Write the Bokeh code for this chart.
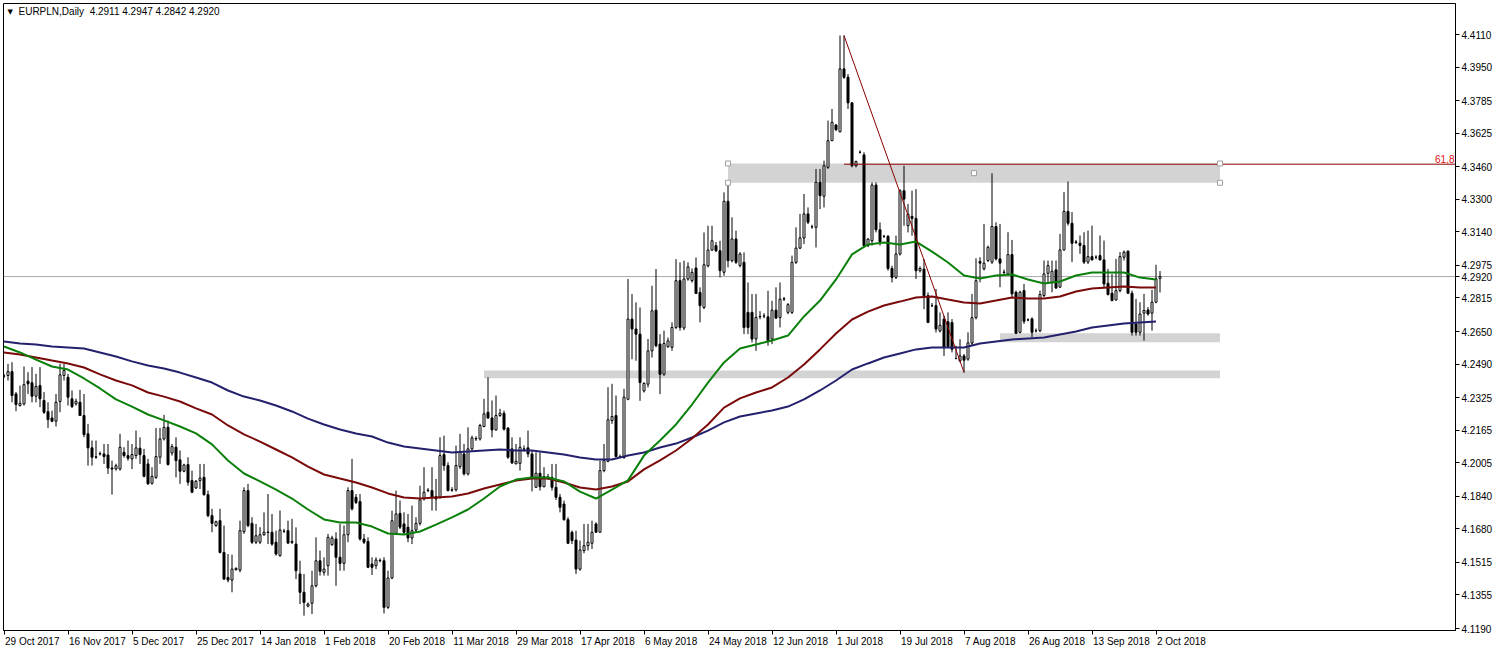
from bokeh.plotting import figure
from bokeh.models import (Range1d, FixedTicker, PrintfTickFormatter, Label, Span,
                          ColumnDataSource, LinearAxis)
from bokeh.embed import file_html
from bokeh.resources import INLINE

# ---------------- data (EURPLN daily) ----------------
opens = [
    4.2430, 4.2434, 4.2453, 4.2343, 4.2286, 4.2294, 4.2406, 4.2398, 4.2332, 4.2384,
    4.2311, 4.2256, 4.2225, 4.2209, 4.2306, 4.2434, 4.2425, 4.2319, 4.2294, 4.2302,
    4.2237, 4.2147, 4.2078, 4.2034, 4.2048, 4.2048, 4.2043, 4.1979, 4.1974, 4.1974,
    4.2056, 4.2040, 4.2024, 4.2040, 4.2076, 4.2040, 4.1999, 4.1904, 4.1933, 4.2032,
    4.2122, 4.2179, 4.2053, 4.2081, 4.2019, 4.1963, 4.1996, 4.1917, 4.1881, 4.1917,
    4.1933, 4.1848, 4.1745, 4.1696, 4.1720, 4.1564, 4.1441, 4.1428, 4.1479, 4.1477,
    4.1666, 4.1868, 4.1707, 4.1614, 4.1614, 4.1651, 4.1664, 4.1663, 4.1614, 4.1548,
    4.1668, 4.1671, 4.1618, 4.1605, 4.1458, 4.1368, 4.1300, 4.1314, 4.1400, 4.1523,
    4.1466, 4.1499, 4.1602, 4.1630, 4.1540, 4.1510, 4.1651, 4.1868, 4.1835, 4.1814,
    4.1630, 4.1618, 4.1507, 4.1499, 4.1525, 4.1523, 4.1294, 4.1438, 4.1658, 4.1756,
    4.1704, 4.1688, 4.1635, 4.1674, 4.1707, 4.1827, 4.1868, 4.1868, 4.1838, 4.1835,
    4.2045, 4.1991, 4.1870, 4.1871, 4.1986, 4.2048, 4.1950, 4.2073, 4.2122, 4.2122,
    4.2183, 4.2253, 4.2225, 4.2166, 4.2237, 4.2248, 4.2175, 4.2073, 4.1999, 4.2002,
    4.2071, 4.2078, 4.2048, 4.1884, 4.1953, 4.1887, 4.1933, 4.1933, 4.1884, 4.1835,
    4.1802, 4.1725, 4.1663, 4.1625, 4.1482, 4.1573, 4.1597, 4.1609, 4.1704, 4.1663,
    4.1966, 4.2012, 4.2212, 4.2237, 4.2035, 4.2030, 4.2317, 4.2711, 4.2662, 4.2637,
    4.2358, 4.2391, 4.2555, 4.2755, 4.2588, 4.2440, 4.2575, 4.2572, 4.2670, 4.2900,
    4.2667, 4.2908, 4.2900, 4.2962, 4.2842, 4.2768, 4.2973, 4.3050, 4.3072, 4.3047,
    4.2941, 4.3290, 4.2998, 4.3105, 4.2974, 4.2990, 4.2744, 4.2744, 4.2613, 4.2722,
    4.2726, 4.2722, 4.2613, 4.2755, 4.2719, 4.2809, 4.2744, 4.2744, 4.2990, 4.3060,
    4.3110, 4.3228, 4.3165, 4.3162, 4.3383, 4.3315, 4.3457, 4.3588, 4.3665, 4.3632,
    4.3941, 4.3900, 4.3774, 4.3465, 4.3531, 4.3518, 4.3072, 4.3096, 4.3370, 4.3150,
    4.3118, 4.3118, 4.2960, 4.2916, 4.3031, 4.3342, 4.3170, 4.3216, 4.3206, 4.2949,
    4.2957, 4.2826, 4.2777, 4.2777, 4.2653, 4.2711, 4.2698, 4.2694, 4.2517, 4.2506,
    4.2530, 4.2514, 4.2593, 4.2718, 4.2994, 4.2958, 4.2999, 4.2991, 4.3166, 4.3007,
    4.2942, 4.2933, 4.3028, 4.2843, 4.2646, 4.2851, 4.2707, 4.2712, 4.2654, 4.2654,
    4.2827, 4.2936, 4.2892, 4.2953, 4.2868, 4.3051, 4.3240, 4.3182, 4.3090, 4.3084,
    4.3073, 4.2991, 4.3018, 4.3015, 4.3023, 4.3002, 4.2887, 4.2838, 4.2805, 4.2851,
    4.3015, 4.3045, 4.2838, 4.2687, 4.2646, 4.2740, 4.2756, 4.2740, 4.2794, 4.2911,
]
highs = [
    4.2442, 4.2491, 4.2499, 4.2352, 4.2384, 4.2478, 4.2450, 4.2475, 4.2442, 4.2475,
    4.2352, 4.2302, 4.2261, 4.2343, 4.2491, 4.2491, 4.2442, 4.2360, 4.2320, 4.2363,
    4.2343, 4.2196, 4.2114, 4.2114, 4.2060, 4.2097, 4.2097, 4.2015, 4.2000, 4.2147,
    4.2081, 4.2114, 4.2097, 4.2163, 4.2130, 4.2073, 4.2024, 4.1983, 4.2176, 4.2176,
    4.2240, 4.2212, 4.2097, 4.2130, 4.2065, 4.2000, 4.2032, 4.1966, 4.1920, 4.1999,
    4.1999, 4.1868, 4.1778, 4.1720, 4.1778, 4.1696, 4.1556, 4.1553, 4.1490, 4.1720,
    4.1884, 4.1901, 4.1737, 4.1704, 4.1688, 4.1761, 4.1851, 4.1753, 4.1671, 4.1770,
    4.1680, 4.1720, 4.1729, 4.1687, 4.1523, 4.1458, 4.1318, 4.1474, 4.1638, 4.1573,
    4.1540, 4.1655, 4.1646, 4.1663, 4.1704, 4.1696, 4.1884, 4.2024, 4.1851, 4.1851,
    4.1655, 4.1638, 4.1540, 4.1540, 4.1535, 4.1540, 4.1474, 4.1769, 4.1868, 4.1819,
    4.1761, 4.1753, 4.1794, 4.1737, 4.1892, 4.1983, 4.1880, 4.1983, 4.1925, 4.2130,
    4.2138, 4.2007, 4.1885, 4.2089, 4.2147, 4.2097, 4.2179, 4.2138, 4.2135, 4.2196,
    4.2319, 4.2425, 4.2311, 4.2335, 4.2270, 4.2261, 4.2180, 4.2130, 4.2097, 4.2130,
    4.2090, 4.2163, 4.2065, 4.2056, 4.2056, 4.1983, 4.1950, 4.1999, 4.1999, 4.1851,
    4.1819, 4.1737, 4.1671, 4.1671, 4.1622, 4.1704, 4.1704, 4.1720, 4.1712, 4.2015,
    4.2097, 4.2376, 4.2393, 4.2335, 4.2045, 4.2368, 4.2908, 4.2834, 4.2793, 4.2768,
    4.2400, 4.2613, 4.2875, 4.2957, 4.2637, 4.2654, 4.2620, 4.2695, 4.3006, 4.2990,
    4.2998, 4.2990, 4.2960, 4.3014, 4.2867, 4.3137, 4.3170, 4.3170, 4.3090, 4.3096,
    4.3334, 4.3383, 4.3211, 4.3146, 4.3040, 4.3039, 4.2891, 4.2834, 4.2834, 4.2750,
    4.2740, 4.2850, 4.2801, 4.2867, 4.2891, 4.2820, 4.2790, 4.3023, 4.3162, 4.3228,
    4.3326, 4.3260, 4.3175, 4.3449, 4.3449, 4.3490, 4.3687, 4.3744, 4.3670, 4.4105,
    4.4105, 4.3916, 4.3777, 4.3490, 4.3540, 4.3531, 4.3110, 4.3383, 4.3383, 4.3186,
    4.3125, 4.3124, 4.2973, 4.3121, 4.3350, 4.3465, 4.3277, 4.3342, 4.3350, 4.2970,
    4.3006, 4.2842, 4.2790, 4.2859, 4.2744, 4.2727, 4.2744, 4.2711, 4.2580, 4.2612,
    4.2539, 4.2646, 4.2835, 4.3010, 4.3015, 4.3179, 4.3072, 4.3428, 4.3187, 4.3179,
    4.2955, 4.3138, 4.3100, 4.2851, 4.2851, 4.2884, 4.2715, 4.2720, 4.2665, 4.2851,
    4.2999, 4.2999, 4.2999, 4.2999, 4.3130, 4.3335, 4.3387, 4.3237, 4.3100, 4.3122,
    4.3138, 4.3146, 4.3171, 4.3025, 4.3122, 4.3097, 4.2958, 4.2933, 4.3007, 4.3040,
    4.3048, 4.3048, 4.2851, 4.2810, 4.2794, 4.2835, 4.2770, 4.2855, 4.2978, 4.2947,
]
lows = [
    4.2422, 4.2409, 4.2302, 4.2258, 4.2281, 4.2286, 4.2343, 4.2302, 4.2302, 4.2278,
    4.2245, 4.2176, 4.2204, 4.2183, 4.2253, 4.2409, 4.2286, 4.2274, 4.2286, 4.2237,
    4.2130, 4.1991, 4.1991, 4.2024, 4.2040, 4.1999, 4.1950, 4.1848, 4.1966, 4.1966,
    4.2030, 4.2015, 4.1974, 4.2024, 4.1999, 4.1933, 4.1897, 4.1897, 4.1925, 4.1999,
    4.2114, 4.1991, 4.2040, 4.1933, 4.1901, 4.1958, 4.1892, 4.1855, 4.1876, 4.1876,
    4.1843, 4.1737, 4.1663, 4.1690, 4.1559, 4.1428, 4.1417, 4.1368, 4.1475, 4.1466,
    4.1655, 4.1688, 4.1605, 4.1605, 4.1605, 4.1646, 4.1605, 4.1597, 4.1548, 4.1543,
    4.1660, 4.1605, 4.1605, 4.1433, 4.1310, 4.1253, 4.1294, 4.1261, 4.1392, 4.1450,
    4.1450, 4.1450, 4.1597, 4.1400, 4.1474, 4.1474, 4.1614, 4.1770, 4.1802, 4.1622,
    4.1605, 4.1487, 4.1453, 4.1482, 4.1515, 4.1264, 4.1286, 4.1433, 4.1655, 4.1679,
    4.1651, 4.1614, 4.1605, 4.1663, 4.1696, 4.1819, 4.1860, 4.1769, 4.1769, 4.1827,
    4.1966, 4.1864, 4.1862, 4.1864, 4.1974, 4.1942, 4.1942, 4.2065, 4.2112, 4.2114,
    4.2179, 4.2220, 4.2130, 4.2163, 4.2230, 4.2163, 4.2024, 4.1999, 4.1999, 4.1966,
    4.2060, 4.2032, 4.1864, 4.1884, 4.1868, 4.1884, 4.1920, 4.1868, 4.1822, 4.1761,
    4.1720, 4.1605, 4.1605, 4.1458, 4.1474, 4.1560, 4.1573, 4.1581, 4.1663, 4.1663,
    4.1958, 4.2007, 4.2196, 4.2032, 4.2028, 4.2024, 4.2312, 4.2514, 4.2506, 4.2309,
    4.2350, 4.2375, 4.2522, 4.2572, 4.2342, 4.2432, 4.2570, 4.2555, 4.2662, 4.2654,
    4.2657, 4.2900, 4.2890, 4.2834, 4.2695, 4.2760, 4.2965, 4.3047, 4.3040, 4.2916,
    4.2924, 4.2965, 4.2990, 4.2982, 4.2965, 4.2637, 4.2637, 4.2596, 4.2555, 4.2710,
    4.2715, 4.2580, 4.2588, 4.2711, 4.2670, 4.2800, 4.2735, 4.2736, 4.2982, 4.3055,
    4.3080, 4.3178, 4.3155, 4.3063, 4.3252, 4.3260, 4.3449, 4.3588, 4.3635, 4.3629,
    4.3892, 4.3744, 4.3457, 4.3457, 4.3525, 4.3063, 4.3065, 4.3072, 4.3137, 4.3072,
    4.3110, 4.2949, 4.2891, 4.2908, 4.3023, 4.3170, 4.3137, 4.3121, 4.2908, 4.2940,
    4.2760, 4.2694, 4.2770, 4.2645, 4.2645, 4.2530, 4.2571, 4.2547, 4.2514, 4.2498,
    4.2448, 4.2506, 4.2580, 4.2710, 4.2892, 4.2950, 4.2991, 4.2982, 4.2999, 4.2868,
    4.2930, 4.2925, 4.2818, 4.2638, 4.2641, 4.2687, 4.2700, 4.2622, 4.2645, 4.2646,
    4.2818, 4.2884, 4.2843, 4.2859, 4.2864, 4.3048, 4.3171, 4.2991, 4.3080, 4.3032,
    4.2982, 4.2982, 4.2999, 4.3005, 4.2999, 4.2868, 4.2827, 4.2799, 4.2802, 4.2843,
    4.2999, 4.2835, 4.2630, 4.2630, 4.2630, 4.2605, 4.2728, 4.2654, 4.2789, 4.2842,
]
closes = [
    4.2432, 4.2453, 4.2335, 4.2291, 4.2297, 4.2389, 4.2393, 4.2332, 4.2380, 4.2319,
    4.2253, 4.2217, 4.2209, 4.2302, 4.2437, 4.2458, 4.2327, 4.2281, 4.2307, 4.2237,
    4.2143, 4.2078, 4.2032, 4.2032, 4.2050, 4.2035, 4.1979, 4.1974, 4.1990, 4.2081,
    4.2040, 4.2027, 4.2045, 4.2078, 4.2045, 4.1938, 4.1901, 4.1938, 4.2035, 4.2122,
    4.2179, 4.1996, 4.2084, 4.2015, 4.1963, 4.1994, 4.1909, 4.1860, 4.1914, 4.1929,
    4.1848, 4.1745, 4.1707, 4.1715, 4.1564, 4.1433, 4.1428, 4.1482, 4.1486, 4.1671,
    4.1868, 4.1696, 4.1614, 4.1646, 4.1651, 4.1663, 4.1662, 4.1605, 4.1556, 4.1674,
    4.1668, 4.1610, 4.1614, 4.1474, 4.1368, 4.1318, 4.1310, 4.1400, 4.1523, 4.1471,
    4.1482, 4.1638, 4.1635, 4.1540, 4.1510, 4.1651, 4.1868, 4.1778, 4.1810, 4.1630,
    4.1614, 4.1491, 4.1491, 4.1527, 4.1523, 4.1294, 4.1438, 4.1720, 4.1753, 4.1688,
    4.1663, 4.1635, 4.1671, 4.1707, 4.1822, 4.1860, 4.1870, 4.1835, 4.1827, 4.2040,
    4.1991, 4.1868, 4.1872, 4.1991, 4.2056, 4.1950, 4.2073, 4.2127, 4.2124, 4.2188,
    4.2245, 4.2225, 4.2166, 4.2237, 4.2248, 4.2170, 4.2032, 4.2004, 4.2012, 4.2081,
    4.2073, 4.2048, 4.1933, 4.1953, 4.1887, 4.1937, 4.1935, 4.1884, 4.1835, 4.1786,
    4.1725, 4.1609, 4.1622, 4.1482, 4.1576, 4.1597, 4.1614, 4.1663, 4.1663, 4.1966,
    4.2015, 4.2216, 4.2232, 4.2035, 4.2033, 4.2327, 4.2711, 4.2662, 4.2637, 4.2399,
    4.2395, 4.2555, 4.2752, 4.2580, 4.2440, 4.2591, 4.2604, 4.2670, 4.2900, 4.2670,
    4.2908, 4.2968, 4.2941, 4.2837, 4.2777, 4.2978, 4.3050, 4.3096, 4.3047, 4.2949,
    4.3290, 4.2998, 4.3105, 4.2990, 4.3031, 4.2670, 4.2670, 4.2613, 4.2719, 4.2724,
    4.2726, 4.2604, 4.2755, 4.2716, 4.2809, 4.2811, 4.2782, 4.2990, 4.3060, 4.3110,
    4.3228, 4.3187, 4.3165, 4.3383, 4.3318, 4.3465, 4.3588, 4.3678, 4.3642, 4.3941,
    4.3900, 4.3774, 4.3465, 4.3485, 4.3531, 4.3072, 4.3104, 4.3370, 4.3150, 4.3091,
    4.3118, 4.2960, 4.2916, 4.3031, 4.3342, 4.3301, 4.3227, 4.3206, 4.2949, 4.2960,
    4.2826, 4.2694, 4.2777, 4.2662, 4.2681, 4.2571, 4.2576, 4.2563, 4.2517, 4.2530,
    4.2509, 4.2594, 4.2718, 4.2900, 4.2986, 4.2986, 4.3064, 4.3166, 4.3007, 4.2986,
    4.2940, 4.3028, 4.2835, 4.2641, 4.2843, 4.2700, 4.2707, 4.2646, 4.2654, 4.2832,
    4.2933, 4.2974, 4.2946, 4.2864, 4.3051, 4.3240, 4.3182, 4.3084, 4.3088, 4.3073,
    4.2991, 4.3018, 4.3002, 4.3015, 4.3002, 4.2884, 4.2832, 4.2802, 4.2851, 4.3018,
    4.3040, 4.2838, 4.2646, 4.2646, 4.2736, 4.2753, 4.2736, 4.2794, 4.2909, 4.2920,
]

# moving averages, sampled every 4 bars
ma_fast = [4.2576, 4.2547, 4.2512, 4.2478, 4.2463, 4.2419, 4.2370, 4.2316, 4.2281, 4.2242,
           4.2213, 4.2183, 4.2149, 4.2095, 4.2016, 4.1952, 4.1913, 4.1873, 4.1829, 4.1775,
           4.1726, 4.1711, 4.1711, 4.1691, 4.1657, 4.1652, 4.1667, 4.1701, 4.1736, 4.1775,
           4.1829, 4.1888, 4.1922, 4.1932, 4.1932, 4.1913, 4.1863, 4.1829, 4.1873, 4.1918,
           4.2040, 4.2114, 4.2193, 4.2291, 4.2399, 4.2498, 4.2566, 4.2586, 4.2606, 4.2630,
           4.2724, 4.2802, 4.2906, 4.3029, 4.3078, 4.3088, 4.3078, 4.3092, 4.3043, 4.2989,
           4.2925, 4.2911, 4.2925, 4.2930, 4.2906, 4.2886, 4.2896, 4.2925, 4.2940, 4.2940,
           4.2940, 4.2915, 4.2906]
ma_mid = [4.2547, 4.2537, 4.2522, 4.2507, 4.2493, 4.2473, 4.2439, 4.2409, 4.2385, 4.2350,
          4.2330, 4.2306, 4.2272, 4.2242, 4.2188, 4.2144, 4.2109, 4.2070, 4.2031, 4.1986,
          4.1947, 4.1927, 4.1908, 4.1883, 4.1854, 4.1834, 4.1829, 4.1834, 4.1839, 4.1854,
          4.1878, 4.1898, 4.1918, 4.1927, 4.1927, 4.1908, 4.1883, 4.1873, 4.1888, 4.1913,
          4.1972, 4.2016, 4.2065, 4.2124, 4.2193, 4.2276, 4.2321, 4.2350, 4.2375, 4.2424,
          4.2488, 4.2562, 4.2640, 4.2709, 4.2748, 4.2778, 4.2797, 4.2817, 4.2822, 4.2807,
          4.2793, 4.2788, 4.2802, 4.2817, 4.2812, 4.2812, 4.2822, 4.2847, 4.2861, 4.2866,
          4.2871, 4.2866, 4.2866]
ma_slow = [4.2601, 4.2591, 4.2586, 4.2576, 4.2571, 4.2566, 4.2547, 4.2527, 4.2503, 4.2483,
           4.2468, 4.2448, 4.2424, 4.2399, 4.2360, 4.2330, 4.2311, 4.2286, 4.2257, 4.2222,
           4.2193, 4.2168, 4.2149, 4.2134, 4.2104, 4.2085, 4.2075, 4.2065, 4.2055, 4.2060,
           4.2065, 4.2070, 4.2065, 4.2065, 4.2055, 4.2045, 4.2031, 4.2021, 4.2021, 4.2040,
           4.2055, 4.2080, 4.2099, 4.2129, 4.2163, 4.2203, 4.2232, 4.2247, 4.2262, 4.2281,
           4.2316, 4.2360, 4.2409, 4.2463, 4.2493, 4.2522, 4.2542, 4.2562, 4.2571, 4.2571,
           4.2571, 4.2591, 4.2601, 4.2611, 4.2616, 4.2620, 4.2635, 4.2650, 4.2670, 4.2680,
           4.2689, 4.2694, 4.2699]

date_labels = ["29 Oct 2017", "16 Nov 2017", "5 Dec 2017", "25 Dec 2017", "14 Jan 2018",
               "1 Feb 2018", "20 Feb 2018", "11 Mar 2018", "29 Mar 2018", "17 Apr 2018",
               "6 May 2018", "24 May 2018", "12 Jun 2018", "1 Jul 2018", "19 Jul 2018",
               "7 Aug 2018", "26 Aug 2018", "13 Sep 2018", "2 Oct 2018"]
price_ticks = [4.1190, 4.1355, 4.1515, 4.1680, 4.1840, 4.2005, 4.2165, 4.2325, 4.2490, 4.2650,
               4.2815, 4.2975, 4.3140, 4.3300, 4.3460, 4.3625, 4.3785, 4.3950, 4.4110]

# support / resistance zones (bar index from, bar index to, price top, price bottom)
zone_left = [181, 249, 120]
zone_right = [304, 304, 304]
zone_top = [4.3476, 4.2641, 4.2458]
zone_bottom = [4.3381, 4.2597, 4.2420]

# Fibonacci drawing
fib_bar_high, fib_bar_low = 210, 240
fib_high, fib_low = 4.4105, 4.2449
fib_ratio = 0.618
last_price = 4.2920
header = "EURPLN,Daily\u00a0 4.2911 4.2947 4.2842 4.2920"

# ---------------- figure ----------------
FONT = "Liberation Sans"
W, H = 1497, 652
FL, FT, FR, FB = 3, 3, 42, 22           # borders around the frame (px)
FW, FH = W - FL - FR, H - FT - FB       # frame size
PX_PER_BAR = 4

n = len(closes)
bars = list(range(n))
ma_bars = list(range(0, n, 4))[:len(ma_fast)]

src = ColumnDataSource(dict(
    x=bars, h=highs, l=lows,
    top=[max(o, c) for o, c in zip(opens, closes)],
    bottom=[min(o, c) for o, c in zip(opens, closes)],
    fill=["white" if c >= o else "black" for o, c in zip(opens, closes)],
))

x0 = -0.5 / PX_PER_BAR
px_per_price = 2034.25
y_hi = price_ticks[-1] + 31 / px_per_price
y_lo = y_hi - FH / px_per_price

p = figure(width=W, height=H, output_backend="svg", toolbar_location=None,
           x_range=Range1d(x0, x0 + FW / PX_PER_BAR), y_range=Range1d(y_lo, y_hi),
           y_axis_location="right", min_border_left=FL, min_border_top=FT,
           min_border_right=FR, min_border_bottom=FB)
p.background_fill_color = "white"
p.border_fill_color = "white"
p.outline_line_color = "black"
p.outline_line_width = 1
p.xgrid.visible = False
p.ygrid.visible = False

# zones
p.quad(left=zone_left, right=zone_right, top=zone_top, bottom=zone_bottom,
       fill_color="#d3d3d3", line_color=None)

# bid line
p.add_layout(Span(location=last_price, dimension="width", line_color="#a9a9a9",
                  line_width=1, level="underlay"))

# candles
p.segment(x0="x", y0="h", x1="x", y1="l", source=src, line_color="black", line_width=1)
p.vbar(x="x", width=0.5, top="top", bottom="bottom", source=src,
       fill_color="fill", line_color="black", line_width=1)

# moving averages
p.line(ma_bars, ma_slow, line_color="#24206e", line_width=2)
p.line(ma_bars, ma_mid, line_color="#7a0a0a", line_width=2)
p.line(ma_bars, ma_fast, line_color="#0a800a", line_width=2)

# fibonacci
fib_level = fib_low + fib_ratio * (fib_high - fib_low)
p.segment(x0=[fib_bar_high], y0=[fib_high], x1=[fib_bar_low], y1=[fib_low],
          line_color="#8b0000", line_width=1)
p.ray(x=[fib_bar_high], y=[fib_level], length=0, angle=0, line_color="#8b0000", line_width=1)
p.add_layout(Label(x=FW - 1, y=fib_level, x_units="screen", y_units="data", text="61,8",
                   text_align="right", text_baseline="bottom", text_color="#e01010",
                   text_font=FONT, text_font_size="10px", y_offset=1))

# handles of the selected rectangle
hx = [zone_left[0], zone_left[0], zone_right[0], zone_right[0], (zone_left[0] + zone_right[0]) / 2]
hy = [zone_top[0], zone_bottom[0], zone_top[0], zone_bottom[0], (zone_top[0] + zone_bottom[0]) / 2]
p.scatter(hx, hy, marker="square", size=5, fill_color="white", line_color="#a0a0a0")

# right price axis (includes the current bid price)
ya = p.yaxis[0]
ya.ticker = FixedTicker(ticks=price_ticks + [last_price])
ya.formatter = PrintfTickFormatter(format="%.4f")
ya.major_tick_in = 0
ya.major_tick_out = 4
ya.minor_tick_in = 0
ya.minor_tick_out = 0
ya.major_label_standoff = 2
ya.major_label_text_font = FONT
ya.major_label_text_font_size = "10px"
ya.major_label_text_color = "black"
ya.axis_line_color = "black"

# bottom time axis: tick marks at the bars, labels start just right of each mark
label_bars = list(range(0, n, 16))[:len(date_labels)]
xa = p.xaxis[0]
xa.ticker = FixedTicker(ticks=label_bars)
xa.major_label_overrides = {b: "" for b in label_bars}
xa.major_label_text_font_size = "0px"
xa.major_label_standoff = 0
xa.major_tick_in = 0
xa.major_tick_out = 4
xa.minor_tick_in = 0
xa.minor_tick_out = 0
xa.axis_line_color = "black"

ARIAL = {' ': 278, 'O': 778, 'c': 500, 't': 278, 'N': 722, 'o': 556, 'v': 500, 'D': 722,
         'e': 556, 'J': 500, 'a': 556, 'n': 556, 'F': 611, 'b': 556, 'M': 833, 'r': 333,
         'A': 667, 'p': 556, 'y': 500, 'u': 556, 'l': 222, 'g': 556, 'S': 667}
def text_px(s, size=10):
    return sum(ARIAL.get(ch, 556) for ch in s) * size / 1000.0

label_pos = [b + (1.0 + text_px(s) / 2) / PX_PER_BAR for b, s in zip(label_bars, date_labels)]
xl = LinearAxis(ticker=FixedTicker(ticks=label_pos),
                major_label_overrides={pos: s for pos, s in zip(label_pos, date_labels)},
                major_tick_in=0, major_tick_out=0, minor_tick_in=0, minor_tick_out=0,
                axis_line_color=None, major_label_standoff=1,
                major_label_text_font=FONT, major_label_text_font_size="10px",
                major_label_text_color="black")
p.add_layout(xl, "below")

# header
p.add_layout(Label(x=4, y=FH - 4, x_units="screen", y_units="screen", text="\u25bc",
                   text_baseline="top", text_color="black", text_font="DejaVu Sans",
                   text_font_size="7px"))
p.add_layout(Label(x=15, y=FH - 2, x_units="screen", y_units="screen", text=header,
                   text_baseline="top", text_color="black", text_font=FONT,
                   text_font_size="10px"))

open("out.html", "w").write(file_html(p, INLINE))
